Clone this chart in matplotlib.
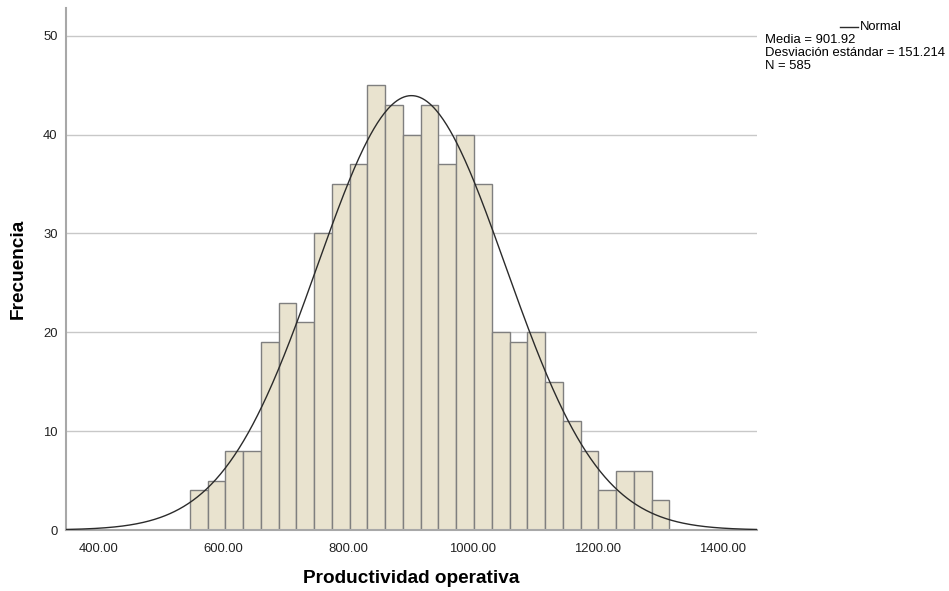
import numpy as np
import matplotlib
matplotlib.use("Agg")
from matplotlib import pyplot as plt

conteos = [4, 5, 8, 8, 19, 23, 21, 30, 35, 37, 45, 43, 40, 43, 37, 40,
           35, 20, 19, 20, 15, 11, 8, 4, 6, 6, 3]
inicio = 546.7
ancho = 28.47
media = 901.92
desv = 151.214
n = 585

x_ticks = [400, 600, 800, 1000, 1200, 1400]
y_ticks = [0, 10, 20, 30, 40, 50]

plt.rcParams['font.family'] = ['Liberation Sans', 'DejaVu Sans']

fig = plt.figure(figsize=(9.49, 5.91), dpi=100)
ax = fig.add_axes([0.0695, 0.1032, 0.7282, 0.8832])

# Lineas de cuadricula horizontales
for y in y_ticks[1:]:
    ax.axhline(y, color='#c8c8c8', lw=1, zorder=0)

# Barras del histograma
bordes = inicio + ancho * np.arange(len(conteos))
ax.bar(bordes, conteos, width=ancho, align='edge', color='#e9e3cf',
       edgecolor='#7f7f7f', linewidth=1, zorder=2)

# Curva normal
xs = np.linspace(348, 1456, 600)
ys = n * ancho * np.exp(-0.5 * ((xs - media) / desv) ** 2) / (desv * np.sqrt(2 * np.pi))
ax.plot(xs, ys, color='#2b2b2b', lw=1, zorder=3)

ax.set_xlim(348, 1456)
ax.set_ylim(0, 52.8)
ax.set_xticks(x_ticks)
ax.set_xticklabels(['%.2f' % v for v in x_ticks])
ax.set_yticks(y_ticks)
ax.tick_params(length=0, labelsize=9.4, colors='#222222')
ax.tick_params(axis='x', pad=9)
ax.tick_params(axis='y', pad=6)

for s in ['top', 'right']:
    ax.spines[s].set_visible(False)
ax.spines['left'].set_color('#a8a8a8')
ax.spines['left'].set_linewidth(1.5)
ax.spines['bottom'].set_color('#a8a8a8')
ax.spines['bottom'].set_linewidth(1.5)

ax.set_xlabel('Productividad operativa', fontsize=13.7, fontweight='bold', va='center')
ax.set_ylabel('Frecuencia', fontsize=13.7, fontweight='bold', va='center')
ax.xaxis.set_label_coords(0.5, -0.092)
ax.yaxis.set_label_coords(-0.0695, 0.5)

# Leyenda y estadisticos
fig.add_artist(plt.Line2D([840 / 949, 858 / 949], [1 - 27 / 591, 1 - 27 / 591],
                          color='#2b2b2b', lw=1))
fig.text(860 / 949, 1 - 27 / 591, 'Normal', fontsize=9.4, va='center', ha='left')
fig.text(765 / 949, 1 - 40 / 591, 'Media = 901.92', fontsize=9.4, va='center', ha='left')
fig.text(765 / 949, 1 - 53 / 591, 'Desviación estándar = 151.214', fontsize=9.4,
         va='center', ha='left')
fig.text(765 / 949, 1 - 66 / 591, 'N = 585', fontsize=9.4, va='center', ha='left')

fig.savefig('out.png', dpi=100)
